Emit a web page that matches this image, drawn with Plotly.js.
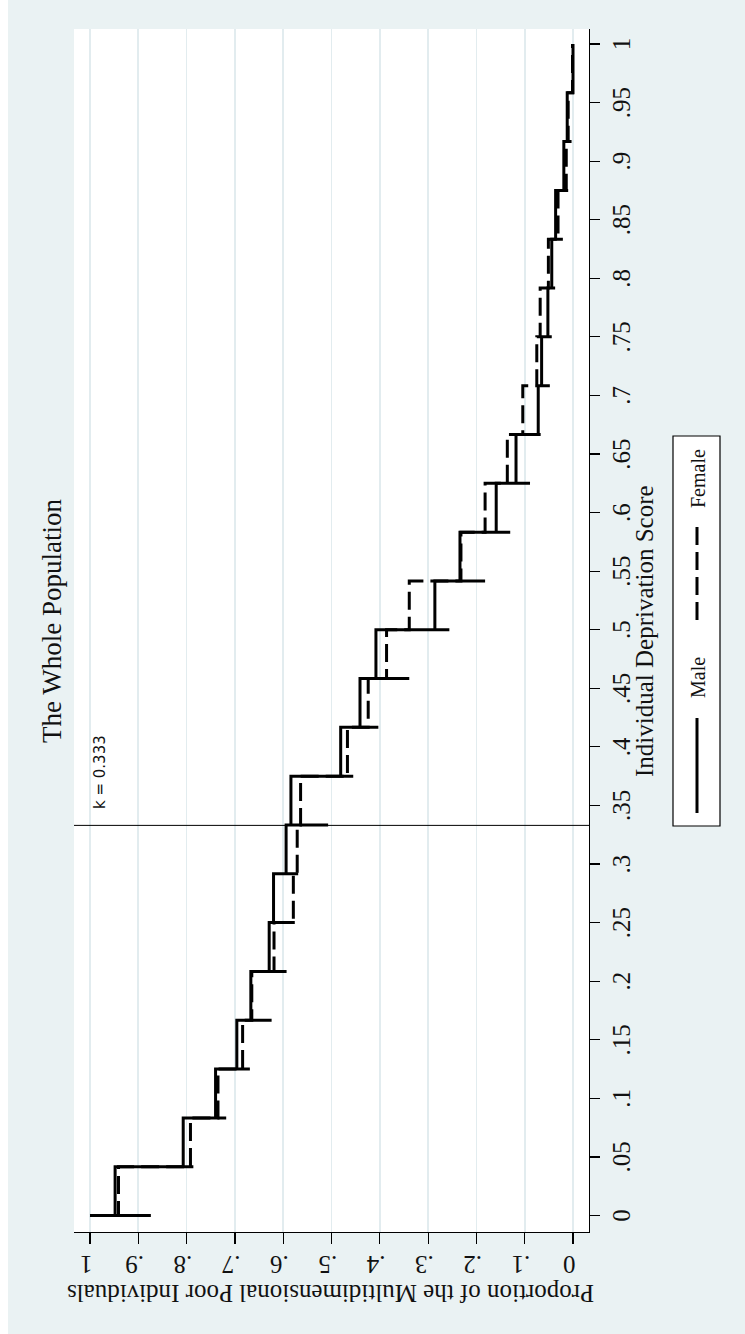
<!DOCTYPE html>
<html>
<head>
<meta charset="utf-8">
<script src="https://cdn.plot.ly/plotly-3.0.1.min.js"></script>
<style>
html, body { margin:0; padding:0; background:#ffffff; overflow:hidden; width:745px; height:1334px; }
#wrap { position:absolute; left:8px; top:0; width:1334px; height:737px;
        transform-origin:0 0; transform:translate(0, 1334px) rotate(-90deg); }
</style>
</head>
<body>
<div id="wrap"></div>
<script>
// Deprivation-score cutoffs (step positions)
const scores = [0, 0.0417, 0.0833, 0.125, 0.1667, 0.2083, 0.25, 0.2917, 0.3333, 0.375,
                0.4167, 0.4583, 0.5, 0.5417, 0.5833, 0.625, 0.6667, 0.7083, 0.75, 0.7917,
                0.8333, 0.875, 0.9167, 0.9583, 1];
// Male: level on each interval [score_j, score_j+1]
const maleLevel = [0.948, 0.807, 0.740, 0.696, 0.667, 0.629, 0.620, 0.594, 0.584, 0.481,
                   0.441, 0.408, 0.286, 0.234, 0.159, 0.118, 0.072, 0.065, 0.052, 0.044,
                   0.036, 0.019, 0.012, 0.000];
// Male: lowest point reached by the drop at each cutoff
const maleDrop = [0.874, 0.786, 0.718, 0.669, 0.624, 0.593, 0.576, 0.569, 0.507, 0.455,
                  0.403, 0.339, 0.256, 0.182, 0.130, 0.089, 0.067, 0.048, 0.044, 0.037,
                  0.021, 0.010, 0.003, 0.000];
// Female: level on each interval
const femaleLevel = [0.941, 0.792, 0.735, 0.684, 0.665, 0.619, 0.579, 0.571, 0.564, 0.467,
                     0.424, 0.386, 0.339, 0.232, 0.182, 0.136, 0.104, 0.075, 0.068, 0.051,
                     0.031, 0.014, 0.010, 0.001];
const startLevel = 1.0;
const kCut = 0.333;

const xTickVals = [0,0.05,0.1,0.15,0.2,0.25,0.3,0.35,0.4,0.45,0.5,0.55,0.6,0.65,0.7,0.75,0.8,0.85,0.9,0.95,1];
const xTickText = ['0','.05','.1','.15','.2','.25','.3','.35','.4','.45','.5','.55','.6','.65','.7','.75','.8','.85','.9','.95','1'];
const yTickVals = [0,0.1,0.2,0.3,0.4,0.5,0.6,0.7,0.8,0.9,1];
const yTickText = ['0','.1','.2','.3','.4','.5','.6','.7','.8','.9','1'];

// Build paths
const mx = [], my = [];
let prev = startLevel;
for (let j = 0; j < maleLevel.length; j++) {
  mx.push(scores[j], scores[j], scores[j], scores[j+1]);
  my.push(prev, maleDrop[j], maleLevel[j], maleLevel[j]);
  prev = maleLevel[j];
}
const fx = [scores[0]], fy = [startLevel];
for (let j = 0; j < femaleLevel.length; j++) {
  fx.push(scores[j], scores[j+1]);
  fy.push(femaleLevel[j], femaleLevel[j]);
}

const serif = 'Liberation Serif, Times New Roman, serif';
const txt = '#111111';

const traces = [
  {x: fx, y: fy, mode:'lines', name:'Female', line:{color:'#000', width:3, dash:'18px,7px'}},
  {x: mx, y: my, mode:'lines', name:'Male', line:{color:'#000', width:3}}
];

const L = 102, R = 29, T = 66, B = 156, W = 1334, H = 737;
const pw = W - L - R, ph = H - T - B;
const px = X => (X - L) / pw;
const py = Y => (H - B - Y) / ph;

const layout = {
  width: W, height: H,
  paper_bgcolor: '#EAF2F3', plot_bgcolor: '#FFFFFF',
  margin: {l:L, r:R, t:T, b:B, pad:0},
  showlegend: false,
  xaxis: {range:[-0.0141, 1.0128], tickmode:'array', tickvals:xTickVals, ticktext:xTickText,
          ticks:'outside', ticklen:10, tickwidth:1.2, tickcolor:'#000',
          showline:true, linecolor:'#000', linewidth:1.2, showgrid:false, zeroline:false,
          tickfont:{family:serif, size:25, color:txt}, fixedrange:true},
  yaxis: {range:[-0.0331, 1.0331], tickmode:'array', tickvals:yTickVals, ticktext:yTickText,
          tickangle:-90, ticks:'outside', ticklen:11, tickwidth:1.2, tickcolor:'#000',
          ticklabelstandoff:2,
          showline:true, linecolor:'#000', linewidth:1.2,
          showgrid:true, gridcolor:'#E2ECEF', gridwidth:1.6, zeroline:false,
          tickfont:{family:serif, size:25, color:txt}, fixedrange:true},
  shapes: [
    {type:'line', xref:'x', yref:'paper', x0:kCut, x1:kCut, y0:0, y1:1, line:{color:'#000', width:1}},
    {type:'rect', xref:'paper', yref:'paper', x0:px(508), x1:px(898), y0:py(712), y1:py(665),
     fillcolor:'#FFFFFF', line:{color:'#000', width:1.2}},
    {type:'line', xref:'paper', yref:'paper', x0:px(521), x1:px(616), y0:py(689), y1:py(689),
     line:{color:'#000', width:3}},
    {type:'line', xref:'paper', yref:'paper', x0:px(714), x1:px(807), y0:py(689), y1:py(689),
     line:{color:'#000', width:3, dash:'18px,7px'}}
  ],
  annotations: [
    {text:'The Whole Population', xref:'paper', yref:'paper', x:px(713), y:py(44),
     xanchor:'center', yanchor:'middle', showarrow:false, font:{family:serif, size:27, color:txt}},
    {text:'Individual Deprivation Score', xref:'paper', yref:'paper', x:px(703), y:py(636),
     xanchor:'center', yanchor:'middle', showarrow:false, font:{family:serif, size:25, color:txt}},
    {text:'Proportion of the Multidimensional Poor Individuals', xref:'paper', yref:'paper',
     x:px(40), y:py(323), textangle:-90, xanchor:'center', yanchor:'middle', showarrow:false,
     font:{family:serif, size:25, color:txt}},
    {text:'k = 0.333', xref:'x', yref:'paper', x:kCut, xshift:14, y:py(92),
     xanchor:'left', yanchor:'middle', showarrow:false,
     font:{family:'DejaVu Sans, sans-serif', size:15, color:txt}},
    {text:'Male', xref:'paper', yref:'paper', x:px(634), y:py(690), xanchor:'left', yanchor:'middle',
     showarrow:false, font:{family:serif, size:20, color:txt}},
    {text:'Female', xref:'paper', yref:'paper', x:px(824), y:py(690), xanchor:'left', yanchor:'middle',
     showarrow:false, font:{family:serif, size:20, color:txt}}
  ]
};

Plotly.newPlot('wrap', traces, layout, {displayModeBar:false, staticPlot:true});
</script>
</body>
</html>
